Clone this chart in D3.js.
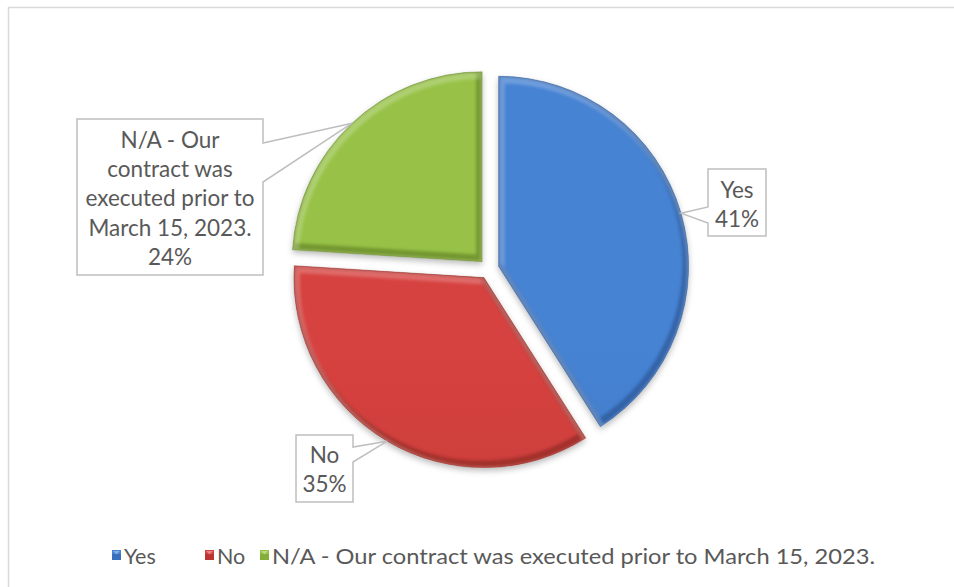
<!DOCTYPE html>
<html>
<head>
<meta charset="utf-8">
<script src="https://cdn.jsdelivr.net/npm/d3@7"></script>
<style>
  html, body { margin: 0; padding: 0; background: #fff; }
  svg { display: block; }
  text { font-family: Lato, "Open Sans", sans-serif; fill: #595959; }
</style>
</head>
<body>
<svg id="chart" width="954" height="587"></svg>
<script>
// Survey answers and their shares
const categories = ["Yes", "No", "N/A - Our contract was executed prior to March 15, 2023."];
const values = [41, 35, 24];
const labelLines = [
  ["Yes", "41%"],
  ["No", "35%"],
  ["N/A - Our", "contract was", "executed prior to", "March 15, 2023.", "24%"]
];

// Slice palettes: [top, bottom, edge shade]
const palette = [
  ["#4683d3", "#3a70bb", "#244f8c"],
  ["#d6423f", "#bb3632", "#862622"],
  ["#97c247", "#84ad39", "#5a7a22"]
];

const svg = d3.select("#chart");

// Chart area frame
svg.append("rect")
  .attr("x", 8.5).attr("y", 7.5)
  .attr("width", 1000).attr("height", 600)
  .attr("fill", "#fff")
  .attr("stroke", "#d9d9d9").attr("stroke-width", 1.5);

const defs = svg.append("defs");

const shadow = defs.append("filter").attr("id", "shadow")
  .attr("x", "-20%").attr("y", "-20%").attr("width", "140%").attr("height", "140%");
shadow.append("feDropShadow")
  .attr("dx", 0).attr("dy", 3).attr("stdDeviation", 3)
  .attr("flood-color", "#000").attr("flood-opacity", 0.28);

const soft = defs.append("filter").attr("id", "soft")
  .attr("x", "-10%").attr("y", "-10%").attr("width", "120%").attr("height", "120%");
soft.append("feGaussianBlur").attr("stdDeviation", 1.6);

const cx = 489, cy = 269, R = 190, explode = 10;

const pie = d3.pie().sort(null).value(d => d);
const arc = d3.arc().innerRadius(0).outerRadius(R);
const arcs = pie(values);

palette.forEach((p, i) => {
  const g = defs.append("linearGradient").attr("id", "grad" + i)
    .attr("gradientUnits", "userSpaceOnUse")
    .attr("x1", 0).attr("y1", cy - R).attr("x2", 0).attr("y2", cy + R);
  g.append("stop").attr("offset", "0%").attr("stop-color", p[0]);
  g.append("stop").attr("offset", "100%").attr("stop-color", p[1]);
});

const slices = svg.append("g");

arcs.forEach((a, i) => {
  const mid = (a.startAngle + a.endAngle) / 2;
  const ox = cx + explode * Math.sin(mid);
  const oy = cy - explode * Math.cos(mid);
  a.ox = ox; a.oy = oy; a.mid = mid;
  const d = arc(a);

  const g = slices.append("g").attr("transform", `translate(${ox},${oy})`);
  defs.append("clipPath").attr("id", "clip" + i).append("path").attr("d", d);

  g.append("path").attr("d", d)
    .attr("fill", `url(#grad${i})`)
    .attr("filter", "url(#shadow)");

  const bevel = g.append("g").attr("clip-path", `url(#clip${i})`);
  // darker rim along lower/right edges
  bevel.append("path").attr("d", d)
    .attr("transform", "translate(-2,-3)")
    .attr("fill", "none").attr("stroke", palette[i][2])
    .attr("stroke-opacity", 0.6).attr("stroke-width", 8)
    .attr("filter", "url(#soft)");
  // lighter rim along upper/left edges
  bevel.append("path").attr("d", d)
    .attr("transform", "translate(2,3)")
    .attr("fill", "none").attr("stroke", "#ffffff")
    .attr("stroke-opacity", 0.22).attr("stroke-width", 8)
    .attr("filter", "url(#soft)");
  g.append("path").attr("d", d)
    .attr("fill", "none").attr("stroke", palette[i][2])
    .attr("stroke-opacity", 0.45).attr("stroke-width", 0.8);
});

// Callout labels, each pointing to the outer edge of its slice
const callouts = [
  { box: [708, 169, 766, 236], side: "left", attach: [207, 223], baseline: 198 },
  { box: [296, 435, 353, 502], side: "right", attach: [447, 462], baseline: 463 },
  { box: [77, 119, 263, 275], side: "right", attach: [143, 182], baseline: 148 }
];
const lineGap = 29.2;

const labels = svg.append("g");
arcs.forEach((a, i) => {
  const c = callouts[i];
  const tx = a.ox + R * Math.sin(a.mid);
  const ty = a.oy - R * Math.cos(a.mid);
  const [x0, y0, x1, y1] = c.box;
  const [a1, a2] = c.attach;
  let p;
  if (c.side === "right") {
    p = `M${x0},${y0}H${x1}V${a1}L${tx},${ty}L${x1},${a2}V${y1}H${x0}Z`;
  } else {
    p = `M${x0},${y0}H${x1}V${y1}H${x0}V${a2}L${tx},${ty}L${x0},${a1}Z`;
  }
  labels.append("path").attr("d", p)
    .attr("fill", "#fff").attr("stroke", "#bfbfbf").attr("stroke-width", 1.5)
    .attr("stroke-linejoin", "miter");
  const mx = (x0 + x1) / 2;
  labelLines[i].forEach((t, k) => {
    labels.append("text")
      .attr("x", mx).attr("y", c.baseline + k * lineGap)
      .attr("text-anchor", "middle")
      .attr("font-size", 22.5)
      .text(t);
  });
});

// Legend
const legendX = [112, 205, 260];
const legend = svg.append("g");
categories.forEach((c, i) => {
  const g = legend.append("g").attr("transform", `translate(${legendX[i]},550)`);
  g.append("rect").attr("width", 9).attr("height", 10).attr("fill", palette[i][1]);
  g.append("rect").attr("width", 9).attr("height", 4).attr("fill", palette[i][0]);
  g.append("path").attr("d", "M1,1L4.5,4.5L8,1Z").attr("fill", "#fff").attr("fill-opacity", 0.35);
  const t = g.append("text").attr("x", 12).attr("y", 13.5)
    .attr("font-size", 21.5)
    .text(c);
  // the long entry is fitted to its slot so the row ends at the right place
  if (i === categories.length - 1) {
    t.attr("textLength", 603).attr("lengthAdjust", "spacingAndGlyphs");
  }
});
</script>
</body>
</html>
